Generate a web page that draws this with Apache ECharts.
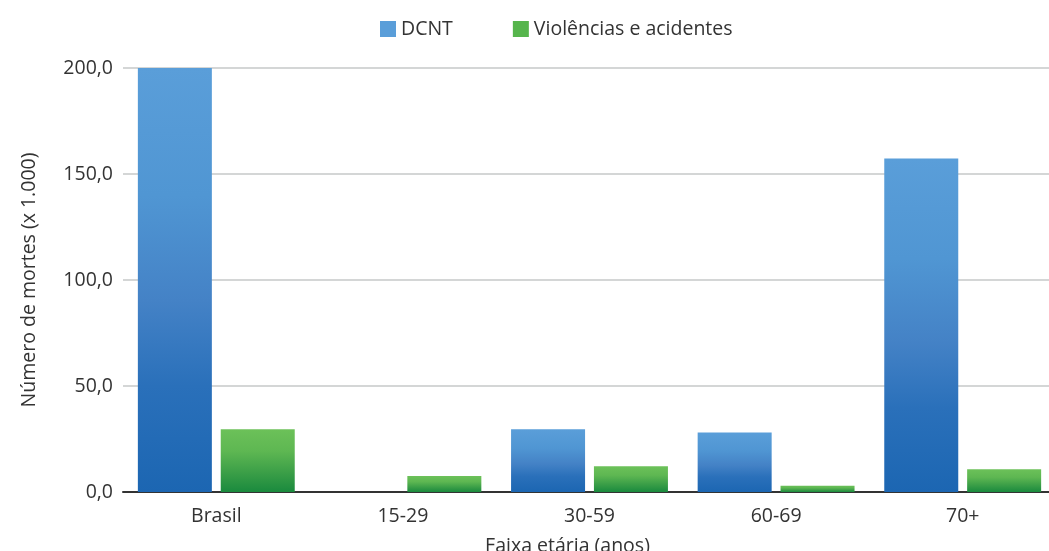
<!DOCTYPE html>
<html>
<head>
<meta charset="utf-8">
<script src="https://cdn.jsdelivr.net/npm/echarts@6/dist/echarts.min.js"></script>
<style>
  html, body { margin: 0; padding: 0; background: #fff; }
  #chart { width: 1049px; height: 551px; }
</style>
</head>
<body>
<div id="chart"></div>
<script>
// Mortes por faixa etária (x 1.000)
const categories = ['Brasil', '15-29', '30-59', '60-69', '70+'];
const dcnt = [200.0, 0, 29.6, 28.1, 157.3];
const violencias = [29.6, 7.5, 12.1, 3.0, 10.7];
const seriesNames = ['DCNT', 'Violências e acidentes'];

const FONT = '"Open Sans", "Noto Sans", sans-serif';
const FS = 19.5;

function vGrad(stops) {
  return new echarts.graphic.LinearGradient(0, 0, 0, 1,
    stops.map(s => ({ offset: s[0], color: s[1] })));
}

const chart = echarts.init(document.getElementById('chart'), null, { renderer: 'canvas' });

chart.setOption({
  animation: false,
  textStyle: { fontFamily: FONT },
  legend: {
    top: 14,
    left: 375,
    itemWidth: 16,
    itemHeight: 16,
    itemGap: 60,
    icon: 'rect',
    textStyle: { fontFamily: FONT, fontSize: FS, color: '#333' },
    data: [
      { name: seriesNames[0], itemStyle: { color: '#5A9ED9', borderWidth: 0 } },
      { name: seriesNames[1], itemStyle: { color: '#56B54C', borderWidth: 0 } }
    ]
  },
  grid: { left: 123, right: -7, top: 68, bottom: 59, outerBoundsMode: 'none', containLabel: false },
  xAxis: {
    type: 'category',
    data: categories,
    name: 'Faixa etária (anos)',
    nameLocation: 'middle',
    nameGap: 44,
    nameTextStyle: { fontFamily: FONT, fontSize: FS, color: '#333', padding: [0, 44, 0, 0] },
    axisLine: { lineStyle: { color: '#333', width: 2 } },
    axisTick: { show: false },
    axisLabel: { fontFamily: FONT, fontSize: FS, color: '#333', margin: 14 }
  },
  yAxis: {
    type: 'value',
    min: 0,
    max: 200,
    interval: 50,
    name: 'Número de mortes (x 1.000)',
    nameLocation: 'middle',
    nameGap: 84,
    nameTextStyle: { fontFamily: FONT, fontSize: FS, color: '#333' },
    axisLine: { show: false },
    axisTick: { show: false },
    splitLine: { lineStyle: { color: '#C6C8C8', width: 1.5 } },
    axisLabel: {
      fontFamily: FONT, fontSize: FS, color: '#333', margin: 10,
      formatter: v => v.toFixed(1).replace('.', ',')
    }
  },
  series: [
    {
      name: seriesNames[0],
      type: 'bar',
      data: dcnt,
      barWidth: 74,
      barGap: '12%',
      itemStyle: {
        color: vGrad([[0, '#5A9ED9'], [0.3, '#5096D3'], [0.55, '#4482C6'], [0.75, '#2A70BA'], [1, '#1C66B2']])
      }
    },
    {
      name: seriesNames[1],
      type: 'bar',
      data: violencias,
      barWidth: 74,
      itemStyle: {
        color: vGrad([[0, '#6CC159'], [0.35, '#5EB752'], [0.7, '#3A9E47'], [1, '#1A8A3E']])
      }
    }
  ]
});
</script>
</body>
</html>
